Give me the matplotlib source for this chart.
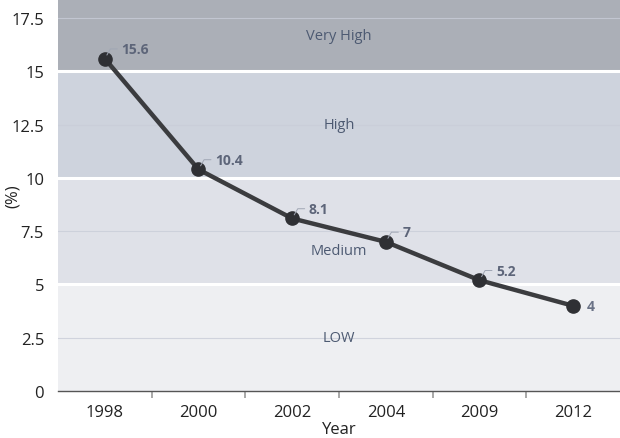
import matplotlib
matplotlib.use("Agg")
import matplotlib.pyplot as plt
import numpy as np

plt.rcParams['font.family'] = ['Open Sans', 'DejaVu Sans']

years = ['1998', '2000', '2002', '2004', '2009', '2012']
values = [15.6, 10.4, 8.1, 7.0, 5.2, 4.0]
value_labels = ['15.6', '10.4', '8.1', '7', '5.2', '4']

band_edges = [0, 5, 10, 15, 18.4]
band_names = ['LOW', 'Medium', 'High', 'Very High']
band_label_y = [2.5, 6.6, 12.5, 16.7]
band_colors = ['#eeeff2', '#dfe1e8', '#ced3dd', '#abafb7']

fig = plt.figure(figsize=(6.2, 4.39), dpi=100)
ax = fig.add_axes([0.0935, 0.107, 0.9065, 0.893])

x = np.arange(len(years))
ax.set_xlim(-0.5, len(years) - 0.5)
ax.set_ylim(band_edges[0], band_edges[-1])

for lo, hi, c in zip(band_edges[:-1], band_edges[1:], band_colors):
    ax.axhspan(lo, hi, color=c, zorder=0, lw=0)
for e in band_edges[1:-1]:
    ax.axhline(e, color='white', lw=2.2, zorder=1)
for g in [2.5, 7.5, 12.5, 17.5]:
    ax.axhline(g, color='#c9cdd8', lw=0.8, zorder=1, alpha=0.8)

for name, yy in zip(band_names, band_label_y):
    ax.text(2.5, yy, name, ha='center', va='center', fontsize=10.5, color='#4d5a72', zorder=2)

ax.plot(x, values, color='#3b3c3f', lw=3.2, zorder=3, solid_capstyle='round')
ax.plot(x, values, 'o', color='#2f3034', ms=9.5, zorder=4)

for xi, v, lab in zip(x, values, value_labels):
    if xi == len(x) - 1:
        ax.annotate(lab, (xi, v), xytext=(10, 0), textcoords='offset points',
                    ha='left', va='center', fontsize=10, fontweight='bold', color='#6a7286', zorder=5)
    else:
        ax.annotate(lab, (xi, v), xytext=(12, 7), textcoords='offset points',
                    ha='left', va='center', fontsize=10, fontweight='bold', color='#5d6579', zorder=5,
                    arrowprops=dict(arrowstyle='-', color='#a0a6b4', lw=0.7,
                                    connectionstyle='angle,angleA=0,angleB=60,rad=0',
                                    shrinkA=1, shrinkB=3))

ax.set_yticks([0, 2.5, 5, 7.5, 10, 12.5, 15, 17.5])
ax.set_yticklabels(['0', '2.5', '5', '7.5', '10', '12.5', '15', '17.5'])
ax.set_xticks(x)
ax.set_xticklabels(years)
ax.set_xticks(np.arange(0.5, len(years) - 1, 1), minor=True)
ax.tick_params(axis='x', which='major', length=0, labelsize=12, pad=9, colors='#222222')
ax.tick_params(axis='x', which='minor', length=5, width=1.2, color='#999999')
ax.tick_params(axis='y', length=0, labelsize=12, pad=10, colors='#222222')

for s in ['top', 'right', 'left']:
    ax.spines[s].set_visible(False)
ax.spines['bottom'].set_color('#555555')
ax.spines['bottom'].set_linewidth(1)

ax.set_xlabel('Year', fontsize=12, labelpad=1, color='#222222')
ax.set_ylabel('(%)', fontsize=12, color='#222222')
ax.yaxis.set_label_coords(-0.066, 0.5)

fig.savefig('out.png', dpi=100)
